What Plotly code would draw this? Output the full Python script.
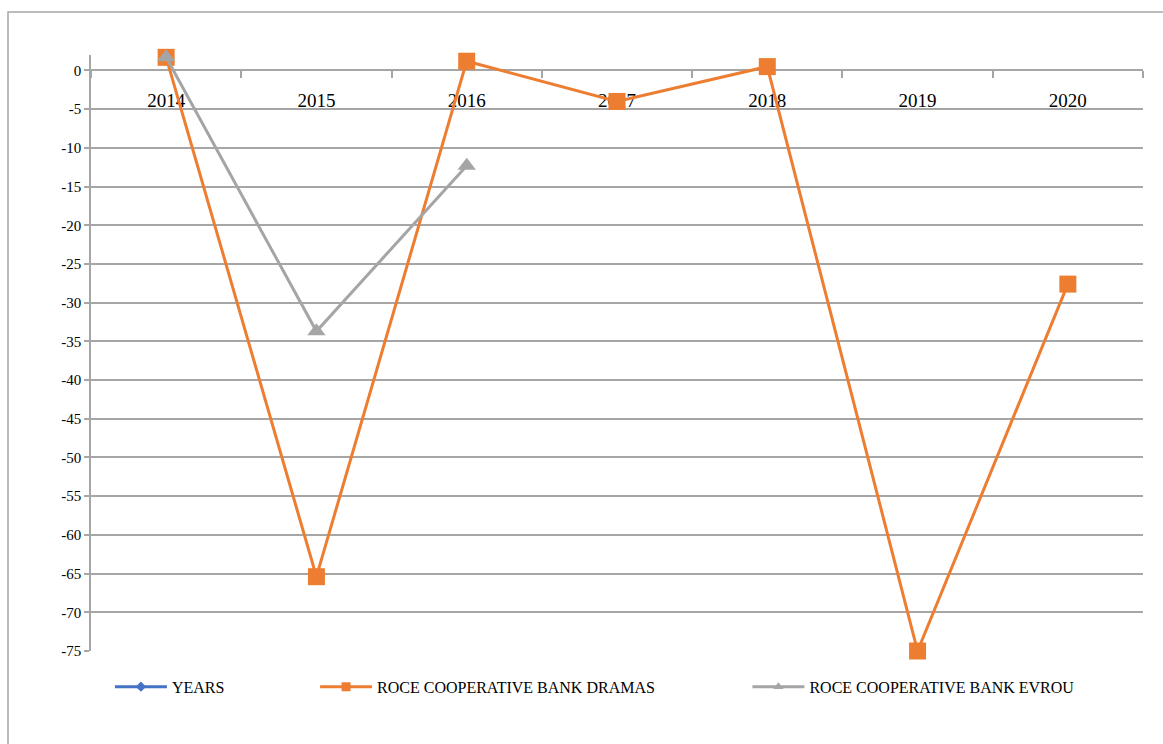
import plotly.graph_objects as go

years = ["2014", "2015", "2016", "2017", "2018", "2019", "2020"]
years_values = [2014, 2015, 2016, 2017, 2018, 2019, 2020]
roce_dramas = [1.7, -65.4, 1.2, -4.0, 0.5, -75.0, -27.6]
roce_evrou = [1.7, -33.7, -12.3, None, None, None, None]

y_ticks = list(range(-75, 1, 5))

FONT = "Liberation Serif"
GRID = "#a6a6a6"

series = [
    dict(name="YEARS", y=years_values, color="#4472C4", symbol="diamond", size=9,
         leg_size=8, legend="legend", clip=True),
    dict(name="ROCE COOPERATIVE BANK DRAMAS", y=roce_dramas, color="#ED7D31",
         symbol="square", size=17, leg_size=9, legend="legend2", clip=False),
    dict(name="ROCE COOPERATIVE BANK EVROU", y=roce_evrou, color="#A5A5A5",
         symbol="triangle-up", size=16, leg_size=9, legend="legend3", clip=False),
]

fig = go.Figure()
for s in series:
    fig.add_trace(go.Scatter(
        x=years, y=s["y"], name=s["name"], mode="lines+markers",
        line=dict(color=s["color"], width=3),
        marker=dict(symbol=s["symbol"], size=s["size"], color=s["color"]),
        cliponaxis=s["clip"], showlegend=False,
    ))
for s in series:
    fig.add_trace(go.Scatter(
        x=[None], y=[None], name=s["name"], mode="lines+markers",
        line=dict(color=s["color"], width=3),
        marker=dict(symbol=s["symbol"], size=s["leg_size"], color=s["color"]),
        legend=s["legend"], showlegend=True,
    ))

legend_common = dict(orientation="h", yanchor="middle", y=-0.06, xanchor="left",
                     font=dict(family=FONT, size=16, color="#000000"),
                     bgcolor="rgba(0,0,0,0)", itemwidth=52)

fig.update_layout(
    width=1163, height=744,
    margin=dict(l=91, r=20, t=55, b=93),
    paper_bgcolor="white", plot_bgcolor="white",
    font=dict(family=FONT, color="#000000"),
    showlegend=True,
    legend=dict(legend_common, x=0.018),
    legend2=dict(legend_common, x=0.213),
    legend3=dict(legend_common, x=0.624),
    xaxis=dict(
        type="category", range=[-0.5, 6.5], anchor="free", position=75 / 77, side="bottom",
        showline=True, linecolor=GRID, linewidth=1.5,
        ticks="outside", tickson="boundaries", ticklen=7, tickcolor=GRID, tickwidth=1.5,
        tickfont=dict(family=FONT, size=19, color="#000000"),
        ticklabelstandoff=13,
        showgrid=False, zeroline=False, layer="below traces",
    ),
    yaxis=dict(
        range=[-75, 2], tickmode="array", tickvals=y_ticks,
        ticktext=[str(v) for v in y_ticks],
        showline=True, linecolor=GRID, linewidth=1.5,
        ticks="outside", ticklen=5, tickcolor=GRID, tickwidth=1.5,
        showgrid=True, gridcolor=GRID, gridwidth=1.5, zeroline=False,
        tickfont=dict(family=FONT, size=15, color="#000000"),
        layer="below traces",
    ),
    shapes=[dict(
        type="rect", xref="paper", yref="paper",
        x0=(8 - 91) / 1052, x1=(1170 - 91) / 1052,
        y0=-0.2, y1=1 + (55 - 12) / 596,
        line=dict(color=GRID, width=1.5), layer="below",
    )],
)

fig.write_html("out.html")
